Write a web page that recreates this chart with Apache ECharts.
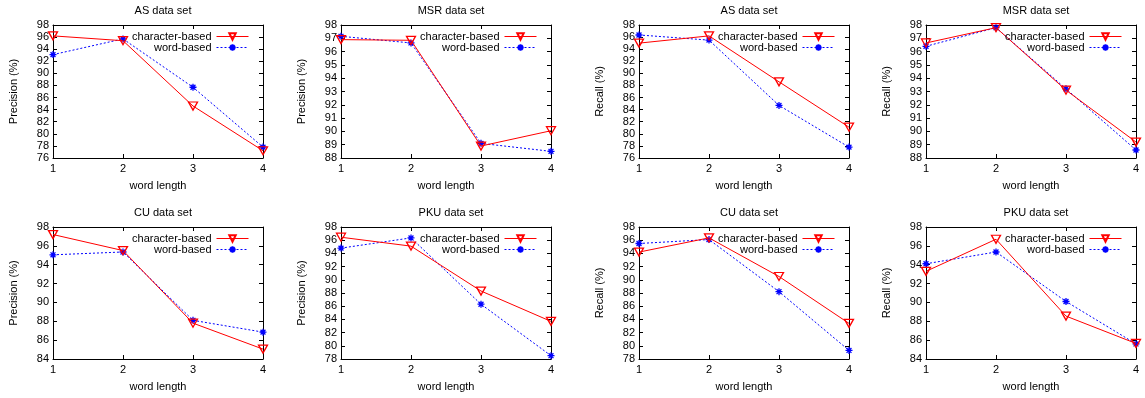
<!DOCTYPE html>
<html>
<head>
<meta charset="utf-8">
<script src="https://cdn.jsdelivr.net/npm/echarts@6/dist/echarts.min.js"></script>
<style>
  html, body { margin: 0; padding: 0; background: #fff; }
  #chart { width: 1145px; height: 398px; }
</style>
</head>
<body>
<div id="chart"></div>
<script>
// x values shared by every panel
const wordLengths = [1, 2, 3, 4];

// panel order: top row left->right, then bottom row
const titles = ["AS data set", "MSR data set", "AS data set", "MSR data set",
                "CU data set", "PKU data set", "CU data set", "PKU data set"];
const yNames = ["Precision (%)", "Precision (%)", "Recall (%)", "Recall (%)",
                "Precision (%)", "Precision (%)", "Recall (%)", "Recall (%)"];
const yMin  = [76, 88, 76, 88, 84, 78, 78, 84];
const yMax  = [98, 98, 98, 98, 98, 98, 98, 98];
const yStep = [2, 1, 2, 1, 2, 2, 2, 2];

const charBased = [
  [96.2, 95.4, 84.6, 77.2],
  [96.9, 96.85, 88.9, 90.05],
  [95.0, 96.2, 88.6, 81.1],
  [96.65, 97.8, 93.1, 89.2],
  [97.2, 95.5, 87.8, 85.05],
  [96.45, 95.1, 88.3, 83.7],
  [94.2, 96.35, 90.5, 83.4],
  [93.3, 96.7, 88.55, 85.65]
];
const wordBased = [
  [93.1, 95.7, 87.7, 77.8],
  [97.15, 96.65, 89.1, 88.5],
  [96.35, 95.5, 84.7, 77.8],
  [96.4, 97.8, 93.2, 88.6],
  [95.05, 95.35, 88.1, 86.85],
  [94.8, 96.35, 86.3, 78.5],
  [95.5, 96.1, 88.2, 79.3],
  [94.1, 95.35, 90.1, 85.6]
];

const FONT = "Liberation Sans, Arial, Helvetica, sans-serif";
const RED = "#ff0000";
const BLUE = "#0000ff";

const gridLefts = [53, 341, 639, 926];
const gridTops = [25, 227];
const GW = 210, GH = 133;

const triDown = "path://M0,0 L10,0 L5,9 Z";
const star = "path://M5,0 L5,10 M0,5 L10,5 M1.5,1.5 L8.5,8.5 M8.5,1.5 L1.5,8.5";

const grid = [], xAxis = [], yAxis = [], series = [], title = [], legend = [];

const tickInside = { show: true, inside: true, length: 4, lineStyle: { color: "#000" } };
const axisLine = { show: true, onZero: false, lineStyle: { color: "#000", width: 1 } };

for (let i = 0; i < 8; i++) {
  const col = i % 4, row = Math.floor(i / 4);
  const left = gridLefts[col], top = gridTops[row];
  const h = row === 0 ? GH : 132;
  grid.push({ left: left, top: top, width: GW, height: h });

  title.push({
    text: titles[i],
    left: left + GW / 2, top: top - 25, textAlign: "center",
    textStyle: { fontFamily: FONT, fontSize: 11, fontWeight: "normal", color: "#000" }
  });

  const xi = xAxis.length;
  xAxis.push({
    type: "value", gridIndex: i, min: 1, max: 4, interval: 1,
    name: "word length", nameLocation: "middle", nameGap: 22,
    nameTextStyle: { fontFamily: FONT, fontSize: 11, color: "#000" },
    axisLine: axisLine, axisTick: tickInside, splitLine: { show: false },
    axisLabel: { fontFamily: FONT, fontSize: 11, color: "#000", margin: 5 }
  });
  xAxis.push({
    type: "value", gridIndex: i, position: "top", min: 1, max: 4, interval: 1,
    axisLine: axisLine, axisTick: tickInside, splitLine: { show: false },
    axisLabel: { show: false }
  });

  const yi = yAxis.length;
  yAxis.push({
    type: "value", gridIndex: i, min: yMin[i], max: yMax[i], interval: yStep[i],
    name: yNames[i], nameLocation: "middle", nameGap: 34,
    nameTextStyle: { fontFamily: FONT, fontSize: 11, color: "#000" },
    axisLine: axisLine, axisTick: tickInside, splitLine: { show: false },
    axisLabel: { fontFamily: FONT, fontSize: 11, color: "#000", margin: 4 }
  });
  yAxis.push({
    type: "value", gridIndex: i, position: "right", min: yMin[i], max: yMax[i], interval: yStep[i],
    axisLine: axisLine, axisTick: tickInside, splitLine: { show: false },
    axisLabel: { show: false }
  });

  series.push({
    name: "character-based", type: "line", xAxisIndex: xi, yAxisIndex: yi,
    data: wordLengths.map((x, k) => [x, charBased[i][k]]),
    symbol: triDown, symbolSize: [9, 8], z: 3,
    lineStyle: { color: RED, width: 1 },
    itemStyle: { color: "rgba(255,255,255,0)", borderColor: RED, borderWidth: 1.3 }
  });
  series.push({
    name: "word-based", type: "line", xAxisIndex: xi, yAxisIndex: yi,
    data: wordLengths.map((x, k) => [x, wordBased[i][k]]),
    symbol: star, symbolSize: 7, z: 2,
    lineStyle: { color: BLUE, width: 1, type: [2, 2] },
    itemStyle: { color: BLUE, borderColor: BLUE, borderWidth: 1.3 }
  });

  legend.push({
    data: ["character-based", "word-based"],
    orient: "vertical", align: "right",
    right: 1145 - (left + GW - 14), top: top + 6,
    itemWidth: 32, itemHeight: 8, itemGap: 0,
    selectedMode: false,
    lineStyle: { width: 1 },
    textStyle: { fontFamily: FONT, fontSize: 11, color: "#000", lineHeight: 11, padding: 0 },
    padding: 0
  });
}

const chart = echarts.init(document.getElementById("chart"), null, { renderer: "canvas" });
chart.setOption({
  animation: false,
  backgroundColor: "#fff",
  title: title, grid: grid, xAxis: xAxis, yAxis: yAxis, legend: legend, series: series
});
</script>
</body>
</html>
